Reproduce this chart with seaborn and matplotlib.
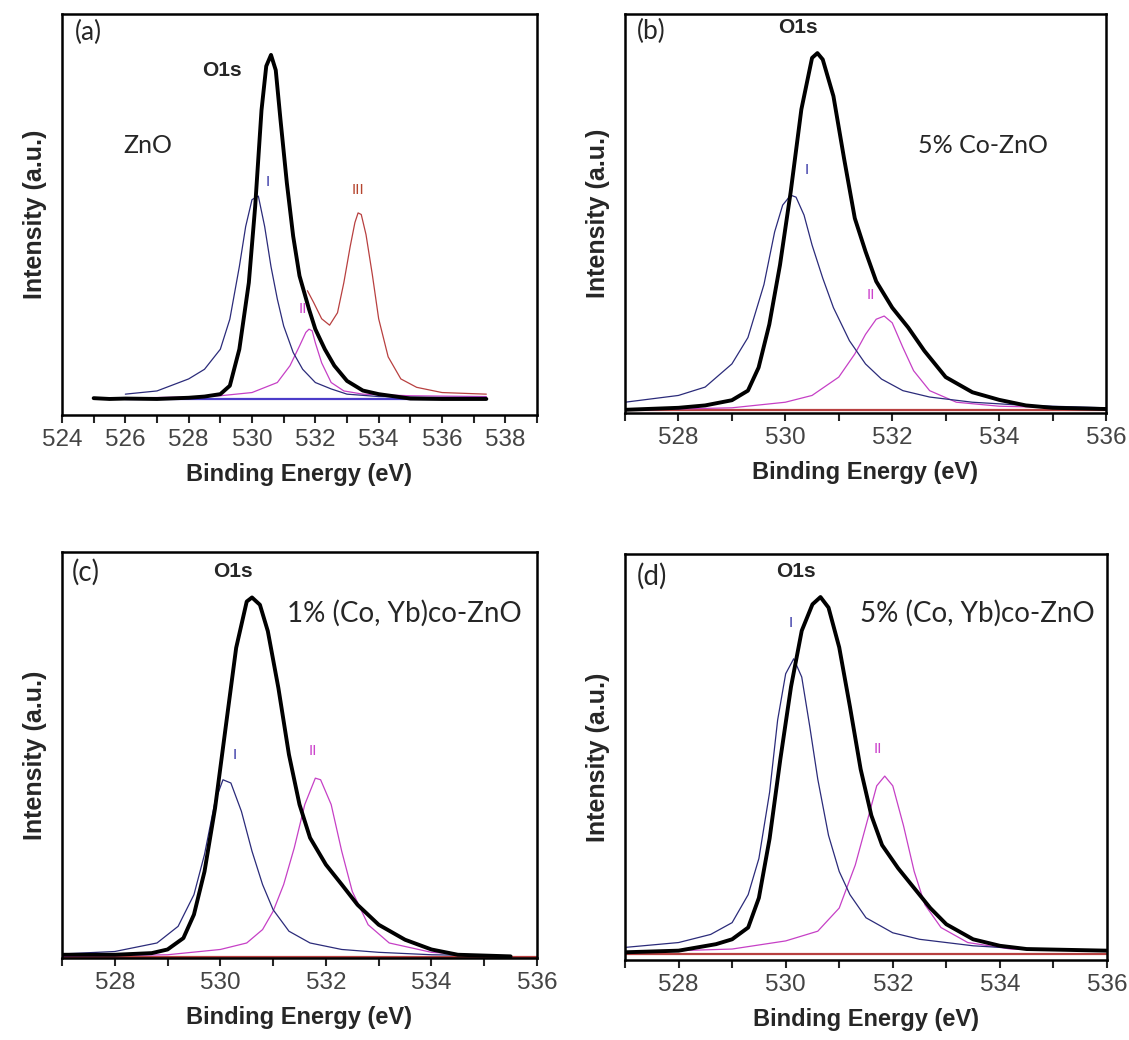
import matplotlib
matplotlib.use("Agg")
import matplotlib.pyplot as plt
import pandas as pd
import seaborn as sns
from matplotlib.ticker import MultipleLocator

# ---- data (y in % of panel height) ----
# (a) ZnO
a_tot_x = [525.0, 525.5, 526, 527, 528, 528.5, 529.0, 529.3, 529.6, 529.9, 530.1, 530.3, 530.45, 530.6,
           530.75, 530.9, 531.1, 531.3, 531.5, 531.8, 532.0, 532.3, 532.6, 533.0, 533.5, 534.0, 535.0,
           536.0, 537.4]
a_tot_y = [4.2, 4.0, 4.1, 4.0, 4.3, 4.6, 5.2, 7.3, 16.4, 33, 52, 76, 87, 89.8, 86, 73.6, 57.9, 44.6,
           34.7, 26.4, 21.4, 16.4, 12.3, 8.5, 6.1, 5.2, 4.1, 4.0, 4.0]
a_p1_x = [526, 527, 528, 528.5, 529, 529.3, 529.6, 529.8, 530.0, 530.2, 530.4, 530.6, 530.8, 531.0,
          531.3, 531.6, 532.0, 532.5, 533.0, 534.0, 535.5, 537.4]
a_p1_y = [5.2, 6.0, 9.0, 11.4, 16.4, 23.9, 37, 47, 53.7, 54.6, 47, 37, 28.9, 22.2, 15.6, 11.4, 8.1,
          6.5, 5.2, 4.6, 4.4, 4.4]
a_p2_x = [526.5, 528, 529, 530, 530.8, 531.2, 531.5, 531.7, 531.8, 531.9, 532.0, 532.2, 532.5, 532.9,
          533.5, 535, 537.4]
a_p2_y = [4.3, 4.5, 4.8, 5.6, 8.1, 12.3, 17.2, 20.6, 21.4, 21.0, 18.0, 13.0, 8.1, 6.0, 5.2, 4.8, 4.6]
a_p3_x = [531.75, 531.95, 532.2, 532.45, 532.7, 532.9, 533.1, 533.25, 533.35, 533.45, 533.6, 533.8,
          534.0, 534.3, 534.7, 535.2, 536.0, 537.4]
a_p3_y = [31, 28, 24, 22.4, 25.5, 33, 42, 48, 50.4, 50, 45, 35, 24, 14.5, 9, 6.9, 5.6, 5.2]
a_base_x = [526, 537.4]
a_base_y = [4.0, 4.0]

# (b) 5% Co-ZnO
b_tot_x = [527, 528, 528.5, 529, 529.3, 529.5, 529.7, 529.9, 530.1, 530.3, 530.5, 530.6, 530.7, 530.9,
           531.1, 531.3, 531.5, 531.7, 532.0, 532.3, 532.6, 533.0, 533.5, 534.0, 534.5, 535.0, 536.0]
b_tot_y = [0.8, 1.3, 1.9, 3.2, 5.6, 11.4, 22.2, 37.1, 55.4, 76.1, 89, 90.2, 88.6, 79.4, 63.7, 48.8,
           40.5, 33, 26.4, 21.4, 15.6, 9, 5.2, 3.3, 1.9, 1.3, 1.0]
b_p1_x = [527, 528, 528.5, 529, 529.3, 529.6, 529.8, 529.95, 530.1, 530.2, 530.35, 530.5, 530.7, 530.9,
          531.2, 531.5, 531.8, 532.2, 532.7, 533.5, 534.5, 536]
b_p1_y = [2.7, 4.4, 6.5, 12.3, 18.9, 32.2, 45.4, 52.1, 54.6, 54.1, 49.6, 42.1, 33.8, 26.4, 18.1, 12.3,
          8.5, 5.6, 4.0, 2.7, 1.9, 1.3]
b_p2_x = [527, 529, 530, 530.5, 531, 531.3, 531.5, 531.7, 531.85, 532, 532.2, 532.4, 532.7, 533.2,
          534, 536]
b_p2_y = [0.7, 1.3, 2.7, 4.4, 9, 14.8, 19.7, 23.5, 24.3, 22.6, 16.4, 10.6, 5.6, 2.7, 1.7, 1.1]
b_base_x = [527, 536]
b_base_y = [0.7, 0.7]

# (c) 1% (Co, Yb) co-ZnO
c_tot_x = [527, 528, 528.7, 529, 529.3, 529.5, 529.7, 529.9, 530.1, 530.3, 530.5, 530.6, 530.75, 530.9,
           531.1, 531.3, 531.5, 531.7, 532, 532.3, 532.6, 533, 533.5, 534, 534.5, 535.5]
c_tot_y = [0.8, 0.8, 1.2, 2.1, 4.9, 10.7, 21.3, 36.9, 56.7, 76.4, 87.8, 88.8, 87, 80.5, 66.5, 50.1,
           37.8, 29.6, 23, 18.1, 13.1, 8.2, 4.5, 2.1, 0.8, 0.4]
c_p1_x = [527, 528, 528.8, 529.2, 529.5, 529.7, 529.9, 530.05, 530.2, 530.4, 530.6, 530.8, 531.0,
          531.3, 531.7, 532.3, 533, 534, 535]
c_p1_y = [1.0, 1.6, 3.7, 7.8, 15.6, 25.5, 38.6, 43.9, 43.1, 36.1, 26.3, 18.1, 11.9, 6.6, 3.7, 2.1,
          1.4, 0.8, 0.6]
c_p2_x = [527, 529, 530, 530.5, 530.8, 531.0, 531.2, 531.4, 531.6, 531.8, 531.9, 532.1, 532.3, 532.5,
          532.8, 533.2, 534, 535]
c_p2_y = [0.4, 0.8, 2.1, 3.7, 7.0, 11.5, 18.1, 27.1, 37.8, 44.3, 43.9, 37.8, 26.3, 16.4, 8.2, 3.7,
          1.4, 0.6]
c_base_x = [527, 536]
c_base_y = [0.25, 0.25]

# (d) 5% (Co, Yb) co-ZnO
d_tot_x = [527, 528, 528.7, 529, 529.3, 529.5, 529.7, 529.9, 530.1, 530.3, 530.5, 530.65, 530.8, 531.0,
           531.2, 531.4, 531.6, 531.8, 532.1, 532.4, 532.7, 533, 533.5, 534, 534.5, 536]
d_tot_y = [1.9, 2.3, 3.9, 5.1, 8.0, 15.3, 29.9, 49.4, 67.3, 81.1, 87.6, 89.4, 86.8, 77, 62.4, 47,
           35.6, 28.3, 22.6, 17.7, 12.8, 8.8, 5.1, 3.5, 2.7, 2.3]
d_p1_x = [527, 528, 528.6, 529, 529.3, 529.5, 529.7, 529.85, 530.0, 530.15, 530.3, 530.45, 530.6,
          530.8, 531.0, 531.2, 531.5, 532, 532.5, 533.5, 534.5, 536]
d_p1_y = [3.1, 4.3, 6.3, 9.2, 16.1, 25, 41.3, 59.1, 70.5, 74.2, 69.7, 57.5, 44.5, 30.7, 21.8, 16.1,
          10.4, 6.7, 5.1, 3.5, 2.7, 2.3]
d_p2_x = [527, 529, 530, 530.6, 531.0, 531.3, 531.5, 531.7, 531.85, 532, 532.2, 532.4, 532.6, 532.9,
          533.4, 534.2, 536]
d_p2_y = [1.9, 2.7, 4.7, 7.1, 12.8, 23.4, 33.1, 42.9, 45.3, 42.9, 33.1, 21.8, 13.6, 8.0, 4.3, 2.7, 2.3]
d_base_x = [527, 536]
d_base_y = [1.5, 1.5]

BLACK, BLUE, MAG, RED = "#000000", "#2b2b7a", "#c640c6", "#b84040"
TXT_FONT = ["Lato", "DejaVu Sans"]

sns.set_style("ticks")
plt.rcParams["font.family"] = ["Liberation Sans", "DejaVu Sans"]

fig = plt.figure(figsize=(11.29, 10.40), dpi=100)


def px_axes(l, r, t, b):
    W, H = 1129, 1040
    return fig.add_axes([l / W, 1 - b / H, (r - l) / W, (b - t) / H])


def curve(ax, xs, ys, color, lw):
    df = pd.DataFrame({"x": xs, "y": ys})
    sns.lineplot(data=df, x="x", y="y", ax=ax, color=color, lw=lw, estimator=None, sort=False)


def panel(ax, xlim, lines):
    for xs, ys, col, lw in lines:
        curve(ax, xs, ys, col, lw)
    ax.set_xlim(*xlim)
    ax.set_ylim(0, 100)
    ax.xaxis.set_major_locator(MultipleLocator(2))
    ax.xaxis.set_minor_locator(MultipleLocator(1))
    ax.set_yticks([])
    ax.tick_params(axis="x", which="both", direction="out", length=6, width=1.5,
                   labelsize=17.5, labelcolor="#444444", pad=4)
    for s in ax.spines.values():
        s.set_linewidth(1.8)
        s.set_color("black")
    ax.set_xlabel("Binding Energy (eV)", fontsize=17, fontweight="bold", labelpad=9)
    ax.set_ylabel("Intensity (a.u.)", fontsize=18, fontweight="bold", labelpad=11)


def note(ax, x, y, s, size, **kw):
    ax.text(x, y, s, transform=ax.transAxes, fontsize=size, family=TXT_FONT,
            va="center", **kw)


def o1s(ax, x, y):
    ax.text(x, y, "O1s", transform=ax.transAxes, fontsize=15, fontweight="bold",
            ha="center", va="center")


def peak_tag(ax, x, y, s, col):
    ax.text(x, y, s, color=col, fontsize=11, ha="center", va="center")


ax_a = px_axes(62, 537, 14, 415)
panel(ax_a, (524, 539), [
    (a_base_x, a_base_y, "#4b3cc9", 1.6),
    (a_p3_x, a_p3_y, RED, 0.9),
    (a_p2_x, a_p2_y, MAG, 0.9),
    (a_p1_x, a_p1_y, BLUE, 0.9),
    (a_tot_x, a_tot_y, BLACK, 2.8),
])
note(ax_a, 0.028, 0.955, "(a)", 19)
o1s(ax_a, 0.337, 0.86)
note(ax_a, 0.18, 0.673, "ZnO", 18, ha="center")
peak_tag(ax_a, 530.5, 58, "I", "#3a3aa8")
peak_tag(ax_a, 531.6, 26.5, "II", "#cc44cc")
peak_tag(ax_a, 533.35, 56, "III", "#b5452f")

ax_b = px_axes(625, 1106, 14, 413)
panel(ax_b, (527, 536), [
    (b_base_x, b_base_y, RED, 1.6),
    (b_p2_x, b_p2_y, MAG, 0.9),
    (b_p1_x, b_p1_y, BLUE, 0.9),
    (b_tot_x, b_tot_y, BLACK, 2.8),
])
note(ax_b, 0.025, 0.955, "(b)", 19)
o1s(ax_b, 0.36, 0.965)
note(ax_b, 0.745, 0.67, "5% Co-ZnO", 18, ha="center")
peak_tag(ax_b, 530.4, 61, "I", "#3a3aa8")
peak_tag(ax_b, 531.6, 29.5, "II", "#cc44cc")

ax_c = px_axes(62, 537, 552, 958)
panel(ax_c, (527, 536), [
    (c_base_x, c_base_y, RED, 1.6),
    (c_p2_x, c_p2_y, MAG, 0.9),
    (c_p1_x, c_p1_y, BLUE, 0.9),
    (c_tot_x, c_tot_y, BLACK, 2.8),
])
note(ax_c, 0.02, 0.95, "(c)", 20)
o1s(ax_c, 0.36, 0.952)
note(ax_c, 0.72, 0.85, "1% (Co, Yb)co-ZnO", 20, ha="center")
peak_tag(ax_c, 530.27, 50, "I", "#3a3aa8")
peak_tag(ax_c, 531.75, 51, "II", "#cc44cc")

ax_d = px_axes(625, 1107, 554, 960)
panel(ax_d, (527, 536), [
    (d_base_x, d_base_y, RED, 1.6),
    (d_p2_x, d_p2_y, MAG, 0.9),
    (d_p1_x, d_p1_y, BLUE, 0.9),
    (d_tot_x, d_tot_y, BLACK, 2.8),
])
note(ax_d, 0.025, 0.945, "(d)", 20)
o1s(ax_d, 0.355, 0.957)
note(ax_d, 0.73, 0.855, "5% (Co, Yb)co-ZnO", 20, ha="center")
peak_tag(ax_d, 530.09, 83, "I", "#3a3aa8")
peak_tag(ax_d, 531.73, 52, "II", "#cc44cc")

fig.savefig("out.png", dpi=100)
